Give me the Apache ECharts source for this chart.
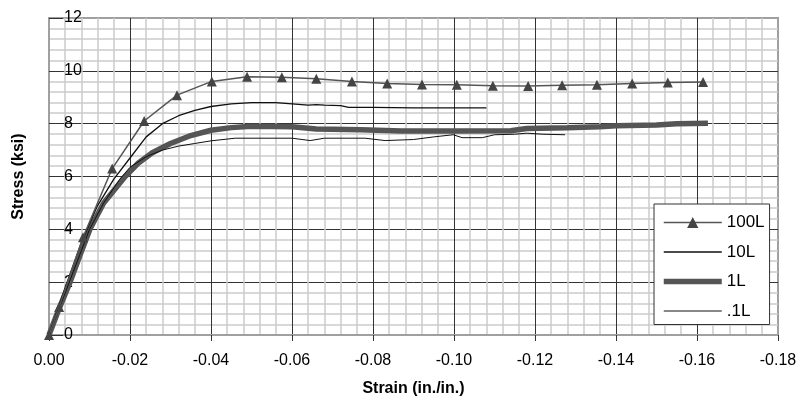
<!DOCTYPE html>
<html>
<head>
<meta charset="utf-8">
<script src="https://cdn.jsdelivr.net/npm/echarts@6/dist/echarts.min.js"></script>
<style>
  html, body { margin: 0; padding: 0; background: #fff; }
  #chart { width: 800px; height: 402px; }
</style>
</head>
<body>
<div id="chart"></div>
<script>
// strain (in./in.) and stress (ksi)
var strain100 = [0, -0.0025, -0.0084, -0.0156, -0.0235, -0.0316, -0.0402, -0.0489, -0.0575, -0.066, -0.0748,
  -0.0835, -0.0921, -0.1007, -0.1096, -0.1183, -0.1267, -0.1353, -0.144, -0.1528, -0.1615];
var stress100 = [0, 1.06, 3.7, 6.3, 8.1, 9.08, 9.6, 9.78, 9.76, 9.7, 9.6,
  9.52, 9.48, 9.47, 9.44, 9.43, 9.45, 9.47, 9.52, 9.56, 9.58];

var strain10 = [0, -0.004, -0.008, -0.012, -0.016, -0.02, -0.024, -0.028, -0.032, -0.036, -0.04, -0.045,
  -0.05, -0.056, -0.06, -0.064, -0.066, -0.068, -0.072, -0.074, -0.08, -0.09, -0.1, -0.108];
var stress10 = [0, 1.8, 3.5, 4.9, 5.9, 6.7, 7.5, 8.0, 8.3, 8.5, 8.65, 8.75,
  8.8, 8.8, 8.75, 8.7, 8.72, 8.7, 8.68, 8.62, 8.62, 8.6, 8.6, 8.6];

var strain1 = [0, -0.0025, -0.0052, -0.0076, -0.0101, -0.0135, -0.0188, -0.022, -0.0255, -0.03, -0.035,
  -0.04, -0.045, -0.05, -0.06, -0.066, -0.077, -0.087, -0.1, -0.114, -0.118, -0.128, -0.136, -0.14,
  -0.15, -0.155, -0.1627];
var stress1 = [0, 1.0, 2.0, 3.0, 4.0, 5.0, 6.0, 6.5, 6.9, 7.25, 7.55,
  7.75, 7.85, 7.9, 7.88, 7.8, 7.77, 7.72, 7.72, 7.73, 7.82, 7.85, 7.88, 7.92,
  7.95, 8.0, 8.02];

var strain01 = [0, -0.0025, -0.005, -0.0075, -0.01, -0.0135, -0.0175, -0.02, -0.024, -0.028, -0.032,
  -0.036, -0.04, -0.046, -0.06, -0.0645, -0.068, -0.078, -0.083, -0.09, -0.095, -0.0998, -0.102,
  -0.107, -0.11, -0.115, -0.118, -0.122, -0.1274];
var stress01 = [0, 1.0, 2.0, 3.0, 4.0, 5.0, 5.9, 6.35, 6.75, 7.0, 7.15,
  7.25, 7.35, 7.45, 7.45, 7.36, 7.45, 7.45, 7.36, 7.4, 7.5, 7.58, 7.47,
  7.47, 7.58, 7.6, 7.64, 7.6, 7.58];

function pairs(xs, ys) {
  var out = [];
  for (var i = 0; i < xs.length; i++) out.push([xs[i], ys[i]]);
  return out;
}

var font = 'Liberation Sans, Arial, sans-serif';
var chart = echarts.init(document.getElementById('chart'));

chart.setOption({
  animation: false,
  textStyle: { fontFamily: font },
  grid: {
    left: 49, right: 22, top: 18, bottom: 67,
    show: true, borderColor: '#a0a0a0', borderWidth: 2
  },
  legend: {
    orient: 'vertical',
    left: 654, top: 204,
    data: [
      { name: '100L', lineStyle: { width: 1.5 } },
      { name: '10L', itemStyle: { opacity: 0 }, lineStyle: { width: 1.3 } },
      { name: '1L', itemStyle: { opacity: 0 }, lineStyle: { width: 5.5 } },
      { name: '.1L', itemStyle: { opacity: 0 }, lineStyle: { width: 1 } }
    ],
    itemWidth: 58, itemHeight: 14, itemGap: 12.5,
    padding: [10, 5, 5, 7],
    backgroundColor: '#fff',
    borderColor: '#333', borderWidth: 1,
    textStyle: { fontSize: 17, color: '#000', fontFamily: font }
  },
  xAxis: {
    type: 'value',
    inverse: true,
    min: -0.18, max: 0, interval: 0.02,
    name: 'Strain (in./in.)',
    nameLocation: 'middle',
    nameGap: 46,
    nameTextStyle: { fontSize: 16, fontWeight: 'bold', color: '#000' },
    axisLine: { lineStyle: { color: '#a0a0a0', width: 2 } },
    axisTick: { show: true, length: 6, lineStyle: { color: '#333' } },
    axisLabel: {
      fontSize: 16, color: '#000', margin: 18,
      formatter: function (v) { return Math.abs(v) < 1e-9 ? '0.00' : v.toFixed(2); }
    },
    minorTick: { show: false, splitNumber: 5 },
    minorSplitLine: { show: true, lineStyle: { color: '#cccccc', width: 1.5 } },
    splitLine: { show: true, showMinLine: false, showMaxLine: false, lineStyle: { color: '#333', width: 1 } }
  },
  yAxis: {
    type: 'value',
    min: 0, max: 12, interval: 2,
    name: 'Stress (ksi)',
    nameLocation: 'middle',
    nameGap: 22,
    nameTextStyle: { fontSize: 16, fontWeight: 'bold', color: '#000' },
    axisLine: { show: true, lineStyle: { color: '#a0a0a0', width: 2 } },
    axisTick: { show: true, inside: true, length: 14, lineStyle: { color: '#333' } },
    axisLabel: { inside: true, fontSize: 16, color: '#000', margin: 15 },
    minorTick: { show: false, splitNumber: 5 },
    minorSplitLine: { show: true, lineStyle: { color: '#cccccc', width: 1.5 } },
    splitLine: { show: true, showMinLine: false, showMaxLine: false, lineStyle: { color: '#333', width: 1 } }
  },
  series: [
    {
      name: '10L', type: 'line', symbol: 'none', z: 3,
      lineStyle: { color: '#111', width: 1.3 },
      itemStyle: { color: '#111' },
      data: pairs(strain10, stress10)
    },
    {
      name: '1L', type: 'line', symbol: 'none', z: 2,
      lineStyle: { color: '#555', width: 5.5 },
      itemStyle: { color: '#555' },
      data: pairs(strain1, stress1)
    },
    {
      name: '.1L', type: 'line', symbol: 'none', z: 3,
      lineStyle: { color: '#111', width: 1 },
      itemStyle: { color: '#111' },
      data: pairs(strain01, stress01)
    },
    {
      name: '100L', type: 'line', symbol: 'triangle', symbolSize: 10, z: 4,
      lineStyle: { color: '#555', width: 1.5 },
      itemStyle: { color: '#444' },
      data: pairs(strain100, stress100)
    }
  ]
});
</script>
</body>
</html>
